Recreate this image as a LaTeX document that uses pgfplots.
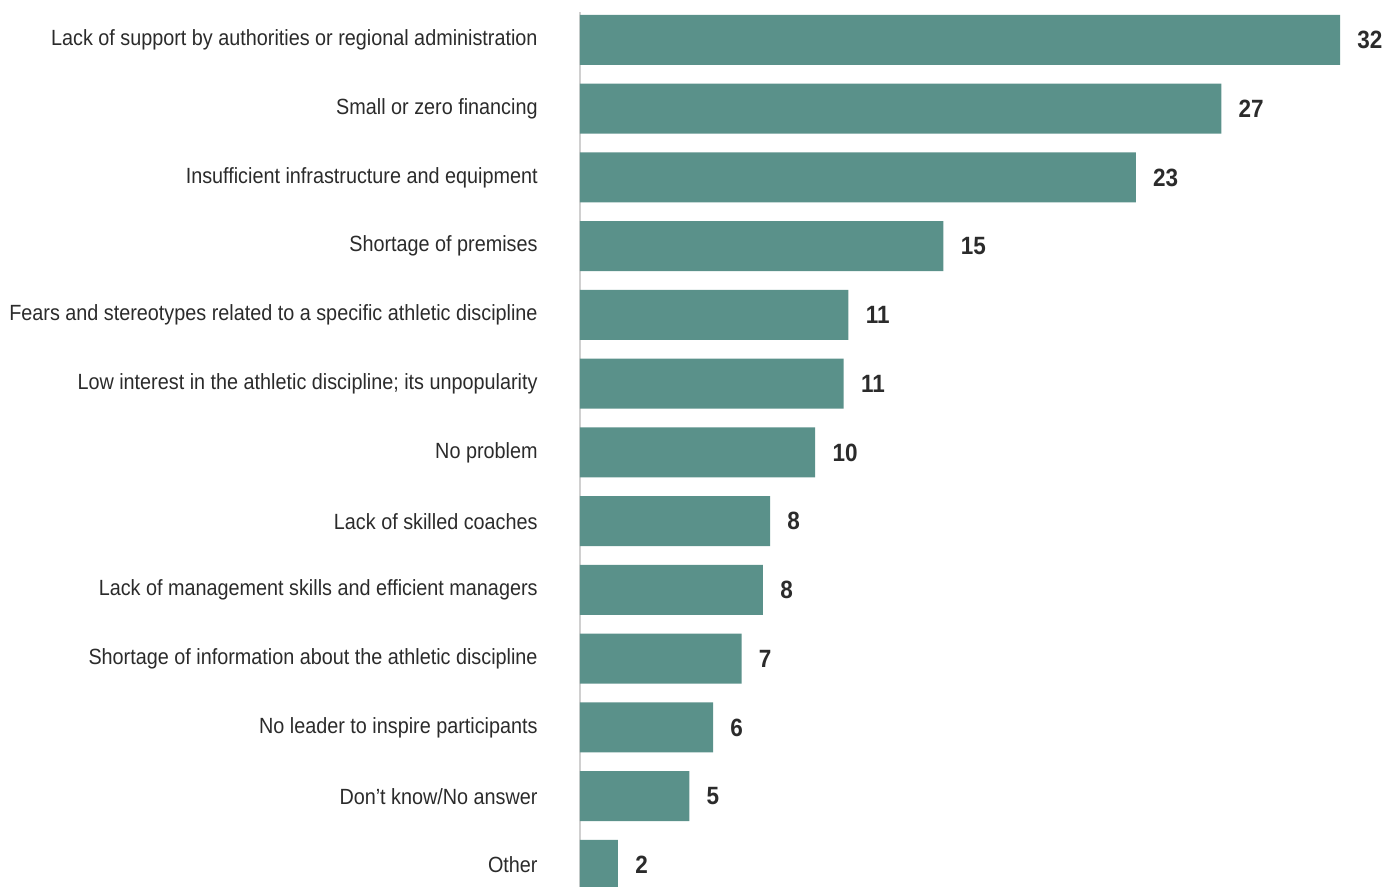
\documentclass[border=0pt]{standalone}
\usepackage{pgfplots}
\pgfplotsset{compat=1.18}
\usepackage{fontspec}
\setmainfont{Liberation Sans}[FakeStretch=0.9]
\definecolor{barc}{HTML}{5A918A}
\definecolor{txt}{HTML}{2B2B2B}
\definecolor{axc}{HTML}{D0D0D0}
\begin{document}
\begin{tikzpicture}[x=1pt,y=1pt]
\begin{axis}[
  scale only axis,
  width=404.5pt, height=437.5pt,
  xbar, bar width=25pt,
  xmin=0, xmax=34.06,
  ymin=-0.407, ymax=12.32,
  y dir=reverse,
  axis x line=none,
  axis y line*=left,
  y axis line style={draw=axc, line width=1pt, -},
  ytick={0,...,12},
  major tick length=0pt,
  yticklabels={
    Lack of support by authorities or regional administration,
    Small or zero financing,
    Insufficient infrastructure and equipment,
    Shortage of premises,
    Fears and stereotypes related to a specific athletic discipline,
    Low interest in the athletic discipline; its unpopularity,
    No problem,
    Lack of skilled coaches,
    Lack of management skills and efficient managers,
    Shortage of information about the athletic discipline,
    No leader to inspire participants,
    Don’t know/No answer,
    Other},
  yticklabel style={font=\fontsize{11}{13}\selectfont, text=txt, anchor=east, inner sep=0pt, xshift=-21pt},
  point meta=explicit symbolic,
  nodes near coords,
  nodes near coords style={font=\fontsize{12.5}{14}\selectfont\bfseries, text=txt, anchor=west, inner sep=0pt, xshift=8.5pt},
  clip=true,
]
\addplot[fill=barc, draw=none] coordinates {
  (32,0)[32] (27,1)[27] (23.4,2)[23] (15.3,3)[15] (11.3,4)[11] (11.1,5)[11]
  (9.9,6)[10] (8.0,7)[8] (7.7,8)[8] (6.8,9)[7] (5.6,10)[6] (4.6,11)[5] (1.6,12)[2]
};
\end{axis}
\pgfresetboundingbox
\path ([xshift=-290pt]current axis.south west) rectangle ([yshift=6pt]current axis.north east);
\end{tikzpicture}
\end{document}
